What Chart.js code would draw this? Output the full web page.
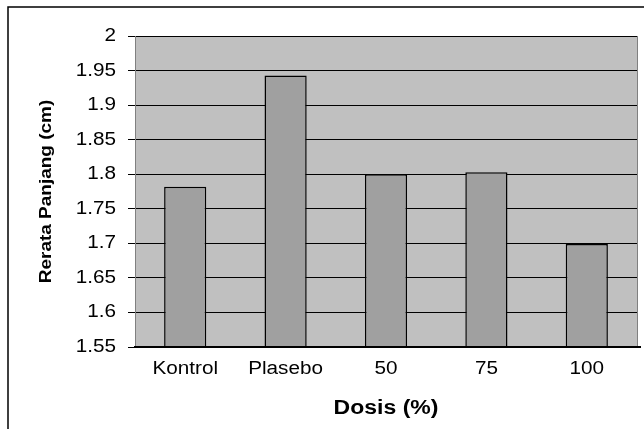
<!DOCTYPE html>
<html>
<head>
<meta charset="utf-8">
<script src="https://cdn.jsdelivr.net/npm/chart.js@4"></script>
<style>
html,body{margin:0;padding:0;background:#fff;}
#wrap{width:644px;height:429px;position:relative;}
</style>
</head>
<body>
<div id="wrap"><canvas id="c" width="644" height="429"></canvas></div>
<script>
const categories = ["Kontrol", "Plasebo", "50", "75", "100"];
const rerataPanjang = [1.782, 1.943, 1.800, 1.803, 1.699];
const yMin = 1.55;
const yMax = 2;
const yStep = 0.05;
const xTitle = "Dosis (%)";
const yTitle = "Rerata Panjang (cm)";

const FONT = "'Liberation Sans', Arial, sans-serif";
const TEXT_STRETCH = 1.15;

const frame = {
  id: 'frame',
  beforeInit(chart) {
    const ctx = chart.ctx;
    if (!ctx.__stretched) {
      const orig = ctx.fillText;
      ctx.fillText = function (t, x, y, mw) {
        this.save();
        this.translate(x, y);
        this.scale(TEXT_STRETCH, 1);
        if (mw !== undefined) orig.call(this, t, 0, 0, mw / TEXT_STRETCH);
        else orig.call(this, t, 0, 0);
        this.restore();
      };
      ctx.__stretched = true;
    }
  },
  beforeDraw(chart) {
    const {ctx, chartArea: a} = chart;
    ctx.save();
    ctx.fillStyle = '#ffffff';
    ctx.fillRect(0, 0, chart.width, chart.height);
    ctx.fillStyle = '#C0C0C0';
    ctx.fillRect(a.left, a.top, a.right - a.left, a.bottom - a.top);
    ctx.strokeStyle = '#000';
    ctx.lineWidth = 1.5;
    ctx.strokeRect(8, 7, chart.width + 20, chart.height + 20);
    ctx.restore();
  },
  afterDatasetsDraw(chart) {
    const {ctx, chartArea: a} = chart;
    ctx.save();
    ctx.strokeStyle = '#808080';
    ctx.lineWidth = 1;
    ctx.beginPath();
    ctx.moveTo(a.right + 0.5, a.top);
    ctx.lineTo(a.right + 0.5, a.bottom);
    ctx.stroke();
    ctx.strokeStyle = '#000';
    ctx.lineWidth = 2;
    ctx.beginPath();
    ctx.moveTo(a.left, a.bottom);
    ctx.lineTo(a.right + 4, a.bottom);
    ctx.stroke();
    ctx.restore();
  }
};

new Chart(document.getElementById('c'), {
  type: 'bar',
  data: {
    labels: categories,
    datasets: [{
      data: rerataPanjang,
      backgroundColor: '#A0A0A0',
      borderColor: '#000000',
      borderWidth: 1.5,
      barPercentage: 0.42,
      categoryPercentage: 1.0,
      base: yMin
    }]
  },
  options: {
    responsive: false,
    animation: false,
    devicePixelRatio: 1,
    layout: { padding: { left: 0, right: 7, top: 36, bottom: 0 } },
    plugins: { legend: { display: false }, tooltip: { enabled: false } },
    scales: {
      x: {
        grid: { display: false, drawTicks: false },
        border: { display: true, color: '#000', width: 2 },
        ticks: {
          color: '#000',
          font: { family: FONT, size: 18 },
          padding: 11,
          maxRotation: 0,
          autoSkip: false
        },
        title: {
          display: true,
          text: xTitle,
          color: '#000',
          font: { family: FONT, size: 20, weight: 'bold' },
          padding: { top: 0, bottom: 9 }
        },
        afterFit(scale) { scale.height = 82; }
      },
      y: {
        min: yMin,
        max: yMax,
        grid: { color: '#000', lineWidth: 1, tickLength: 7, tickColor: '#000' },
        border: { display: true, color: '#808080', width: 1 },
        ticks: {
          stepSize: yStep,
          color: '#000',
          font: { family: FONT, size: 18 },
          padding: 12,
          callback: (v) => String(Number(Number(v).toFixed(2)))
        },
        title: {
          display: true,
          text: yTitle,
          color: '#000',
          font: { family: FONT, size: 16.5, weight: 'bold' },
          padding: { top: 37, bottom: 0 }
        },
        afterFit(scale) { scale.width = 135; }
      }
    }
  },
  plugins: [frame]
});
</script>
</body>
</html>
